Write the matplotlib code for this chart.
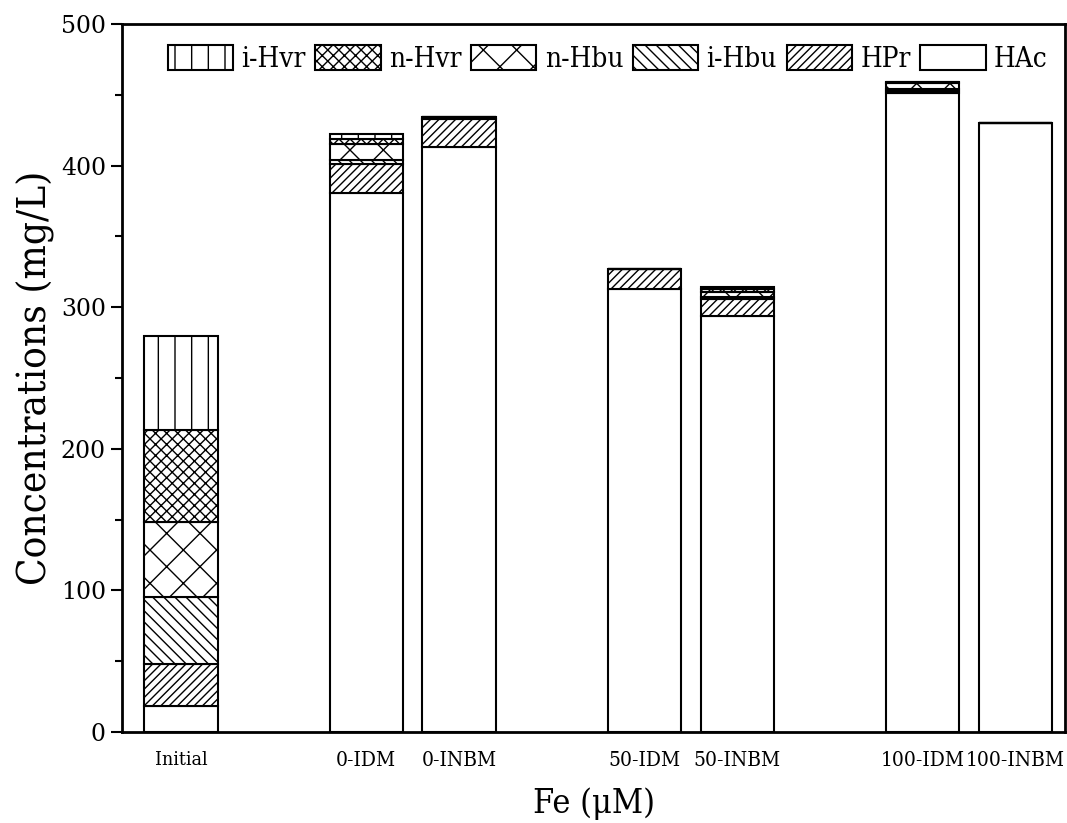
import matplotlib
matplotlib.use("Agg")
import matplotlib.pyplot as plt
from matplotlib.font_manager import FontProperties
from matplotlib.ticker import MultipleLocator
import numpy as np

plt.rcParams["hatch.linewidth"] = 1.0
plt.rcParams["font.family"] = ["DejaVu Serif"]

# narrow serif face for the text labels
def label_font(size):
    return FontProperties(family="DejaVu Serif", stretch="condensed", size=size)

# Sample groups (Fe dose - reactor type)
samples = ["Initial", "0-IDM", "0-INBM", "50-IDM", "50-INBM", "100-IDM", "100-INBM"]

# Volatile fatty acid concentrations (mg/L), stacked bottom to top
HAc   = [18, 381, 413, 313, 294, 451, 430]
HPr   = [30, 20, 20, 14, 12, 2, 0]
i_Hbu = [47, 3, 1, 0, 1, 1, 0]
n_Hbu = [53, 11, 0, 0, 4, 4, 0]
n_Hvr = [65, 4, 0, 0, 2, 1, 0]
i_Hvr = [67, 3, 0, 0, 1, 0, 0]

series = [
    ("HAc", HAc, ""),
    ("HPr", HPr, "////"),
    ("i-Hbu", i_Hbu, "\\\\\\"),
    ("n-Hbu", n_Hbu, "x"),
    ("n-Hvr", n_Hvr, "xxx"),
    ("i-Hvr", i_Hvr, "|"),
]

# bar slots: initial alone, then pairs per Fe dose with a gap between groups
xpos = np.array([0, 2, 3, 5, 6, 8, 9], dtype=float)

fig = plt.figure(figsize=(10.67, 8.23), dpi=100)
ax = fig.add_axes([0.1143, 0.1106, 0.8839, 0.8602])

bottom = np.zeros(len(samples))
handles = {}
for name, vals, hatch in series:
    vals = np.array(vals, dtype=float)
    h = ax.bar(xpos, vals, width=0.79, bottom=bottom, color="white",
               edgecolor="black", linewidth=1.5, hatch=hatch, label=name)
    handles[name] = h
    bottom += vals

ax.set_xlim(-0.636, 9.536)
ax.set_ylim(0, 500)
ax.set_xticks(xpos)
ax.set_xticklabels(samples)
for i, lab in enumerate(ax.get_xticklabels()):
    lab.set_fontproperties(label_font(14 if i == 0 else 15))
ax.tick_params(axis="x", length=0, pad=14)

ax.yaxis.set_major_locator(MultipleLocator(100))
ax.yaxis.set_minor_locator(MultipleLocator(50))
ax.tick_params(axis="y", which="major", direction="out", length=8, width=1.5,
               labelsize=17, right=False)
ax.tick_params(axis="y", which="minor", direction="out", length=5, width=1.5,
               right=False)

for sp in ax.spines.values():
    sp.set_linewidth(2.0)

ax.set_ylabel("Concentrations (mg/L)", fontproperties=label_font(29), labelpad=4)
ax.set_xlabel("Fe (\u03bcM)", fontproperties=label_font(24.5), labelpad=12)

order = ["i-Hvr", "n-Hvr", "n-Hbu", "i-Hbu", "HPr", "HAc"]
leg = ax.legend([handles[k] for k in order], order, loc="upper center",
                bbox_to_anchor=(0.515, 1.0), ncol=6, frameon=False,
                prop=label_font(20),
                handlelength=2.35, handleheight=1.0,
                handletextpad=0.3, columnspacing=0.35, borderaxespad=0.35)

fig.savefig("out.png", dpi=100)
